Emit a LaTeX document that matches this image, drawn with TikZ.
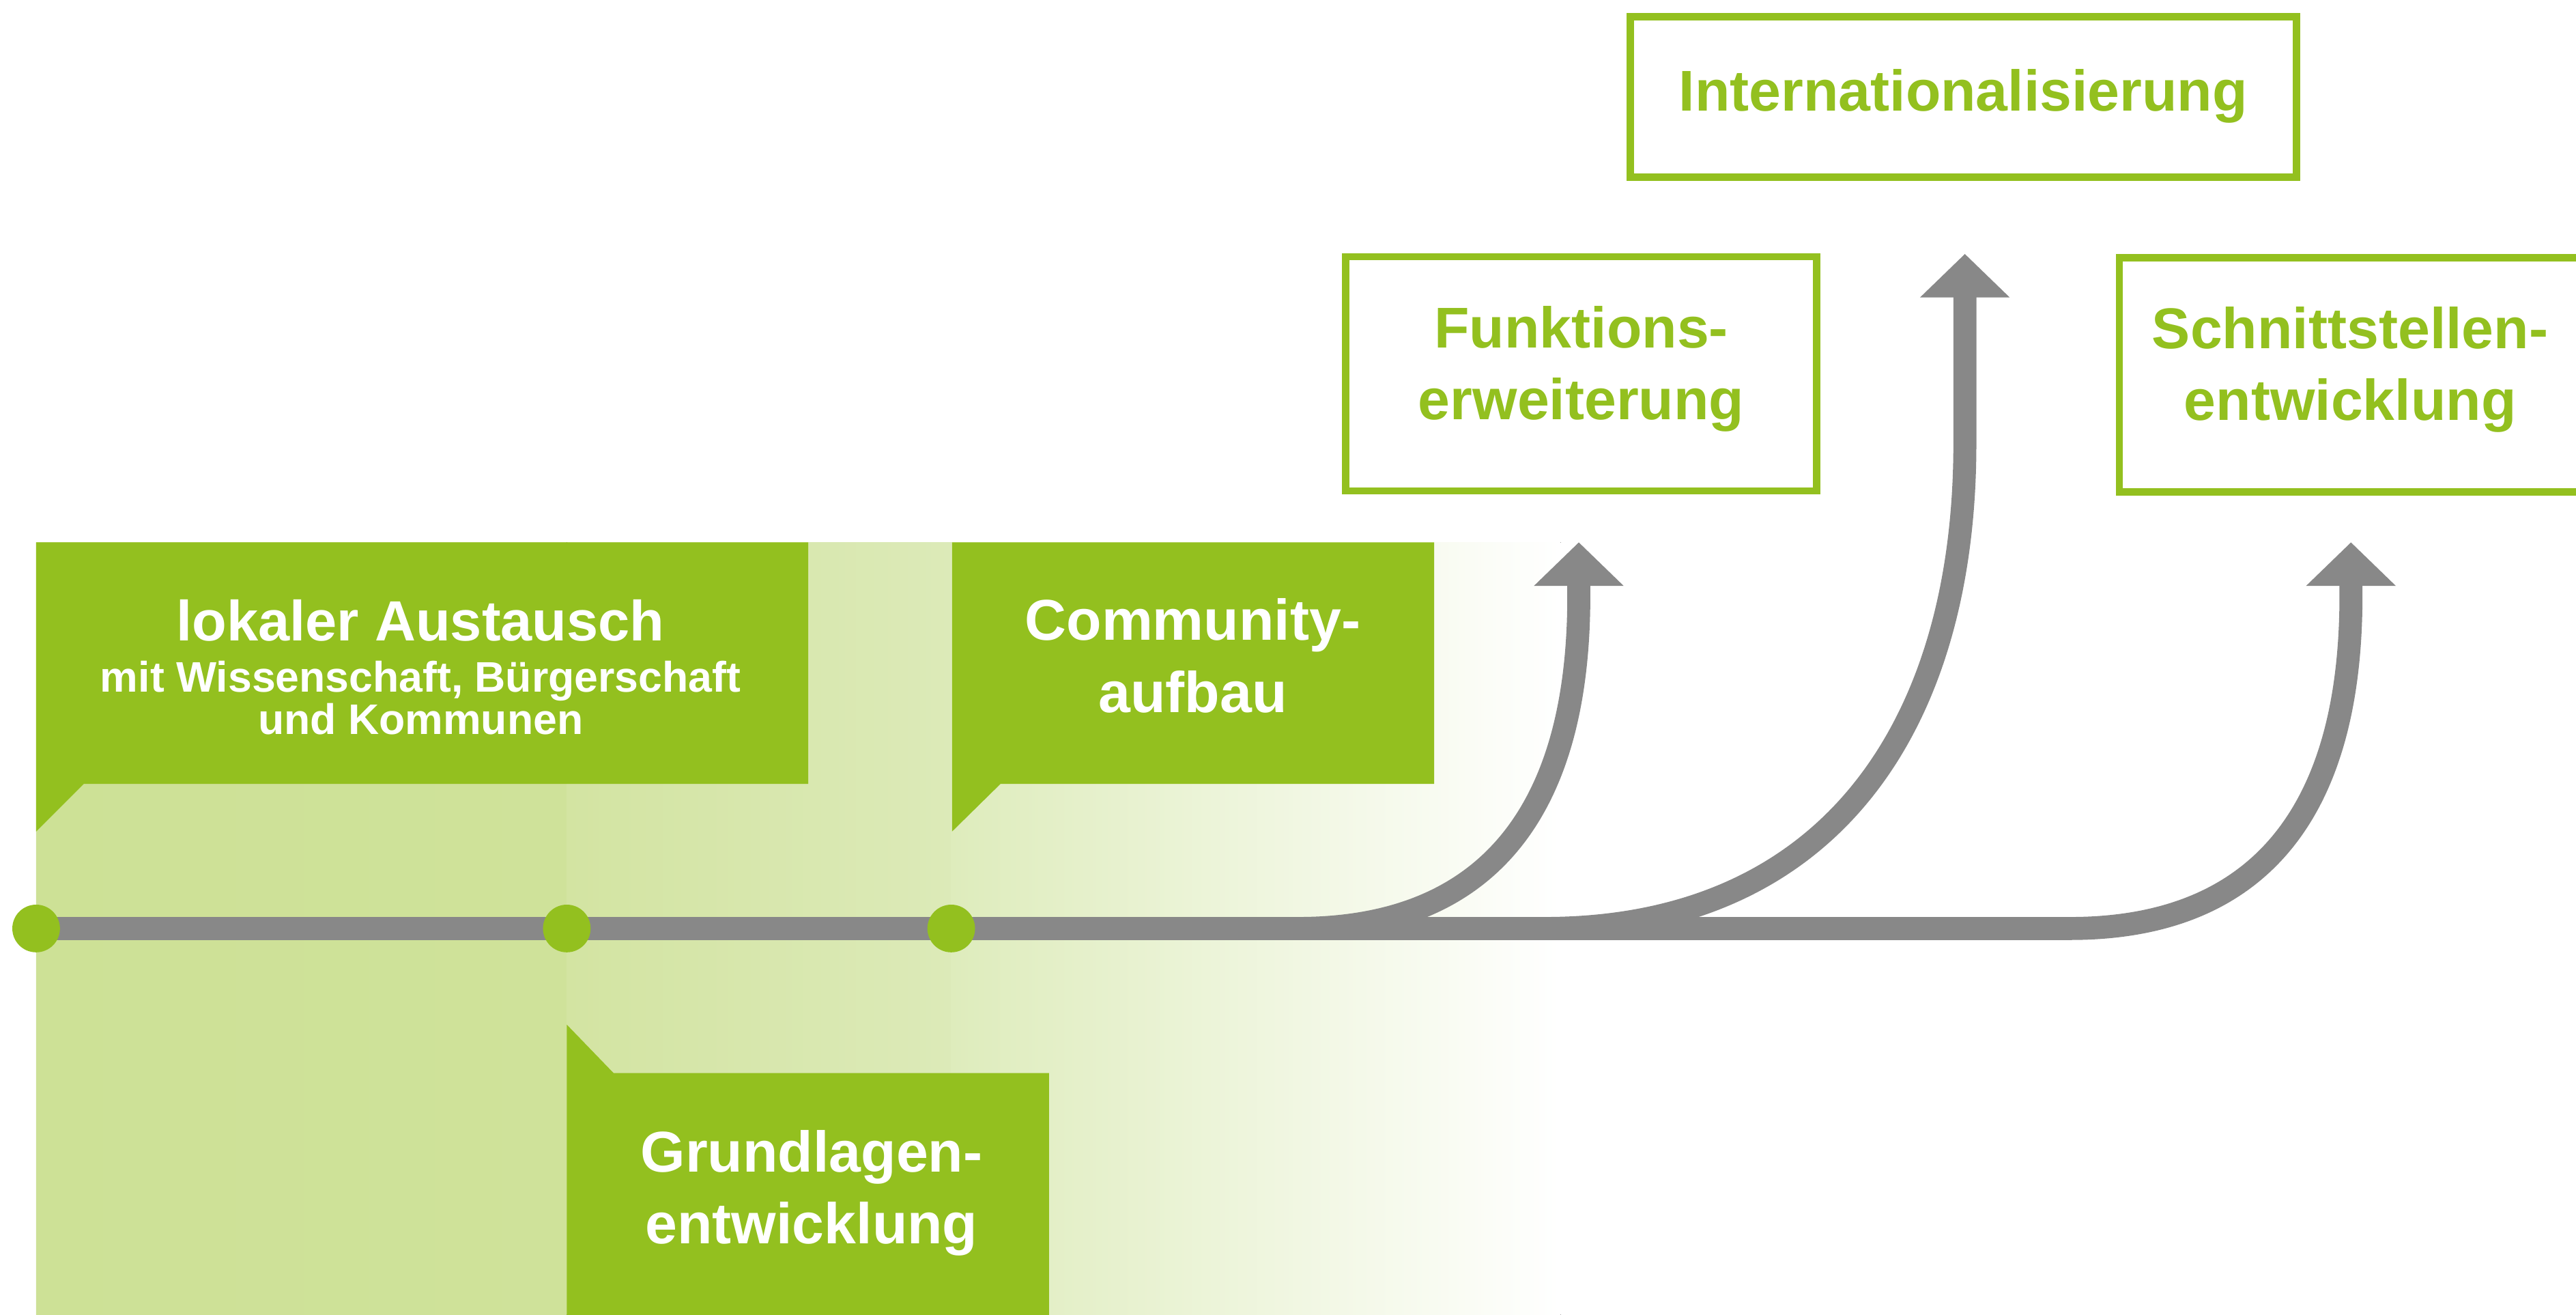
\documentclass[tikz,border=0pt]{standalone}
\usepackage{fontspec}
\setmainfont{Liberation Sans}
\usetikzlibrary{arrows.meta}
\definecolor{lgreen}{RGB}{147,192,31}
\definecolor{lgray}{RGB}{136,136,136}
\definecolor{bgA}{RGB}{205,225,150}
\definecolor{bgAA}{RGB}{207,226,154}
\definecolor{bgB}{RGB}{211,228,162}
\definecolor{bgC}{RGB}{220,234,184}
\definecolor{bgD}{RGB}{222,236,188}
\begin{document}
\begin{tikzpicture}[x=1pt,y=-1pt,
  callout/.style={fill=lgreen},
  calltext/.style={text=white, font=\bfseries\fontsize{35}{44}\selectfont, align=center, inner sep=0pt},
  outbox/.style={draw=lgreen, line width=4.5pt, fill=white, text=lgreen, font=\bfseries\fontsize{35}{43.5}\selectfont, align=center, inner sep=0pt},
  branch/.style={draw=lgray, line width=14pt, -{Triangle[width=53pt,length=26.5pt]}},
  dot/.style={circle, fill=lgreen, minimum size=29pt, inner sep=0pt}
]
\useasboundingbox (0,0) rectangle (1568,800);
\clip (0,0) rectangle (1568,800);

% background gradient
\fill[left color=bgA, right color=bgAA, draw=none] (22,330) rectangle (345.5,800);
\fill[left color=bgB, right color=bgC, draw=none] (345,330) rectangle (579.5,800);
\fill[left color=bgD, right color=white, draw=none] (579,330) rectangle (950,800);

% callouts
\fill[callout] (22,330) -- (492,330) -- (492,477) -- (51,477) -- (22,506) -- cycle;
\fill[callout] (579.5,330) -- (873,330) -- (873,477) -- (609,477) -- (579.5,506) -- cycle;
\fill[callout] (345,623.5) -- (373.5,653) -- (638.5,653) -- (638.5,805) -- (345,805) -- cycle;

\node[calltext, font=\bfseries\fontsize{34.5}{31}\selectfont] (lok) at (256,406) {lokaler Austausch\\
  {\fontsize{26}{27}\selectfont mit Wissenschaft, Bürgerschaft}\\[-5pt]
  {\fontsize{26}{27}\selectfont und Kommunen}};
\node[calltext] (com) at (726,399) {Community-\\aufbau};
\node[calltext] (gru) at (494,726) {Grundlagen-\\entwicklung};

% outlined boxes
\node[outbox, minimum width=405.5pt, minimum height=97.5pt] (intl) at (1195,59) {Internationalisierung\rule[-8.5pt]{0pt}{0pt}};
\node[outbox, minimum width=286.5pt, minimum height=142.5pt] (funk) at (962.5,227.5) {Funktions-\\erweiterung\rule[-13.5pt]{0pt}{0pt}};
\node[outbox, minimum width=281pt, minimum height=142.5pt] (schn) at (1430.5,228) {Schnittstellen-\\entwicklung\rule[-13.5pt]{0pt}{0pt}};

% timeline coordinates
\coordinate (p1) at (22,565);
\coordinate (p2) at (345,565);
\coordinate (p3) at (579,565);
\coordinate (j1) at (790,565);
\coordinate (j2) at (940,565);
\coordinate (j3) at (1260,565);
\coordinate (tip1) at (961,330);
\coordinate (tip2) at (1196,154.5);
\coordinate (tip3) at (1431,330);

\draw[branch] (p1) -- (j3) .. controls (1370,565) and (1430,500) .. (1431,366) -- (tip3);
\draw[branch] (j1) .. controls (900,565) and (960,500) .. (961,366) -- (tip1);
\draw[branch] (j2) .. controls (1115,565) and (1196,440) .. (1196,270) -- (tip2);

\node[dot] (d1) at (p1) {};
\node[dot] (d2) at (p2) {};
\node[dot] (d3) at (p3) {};
\end{tikzpicture}
\end{document}
